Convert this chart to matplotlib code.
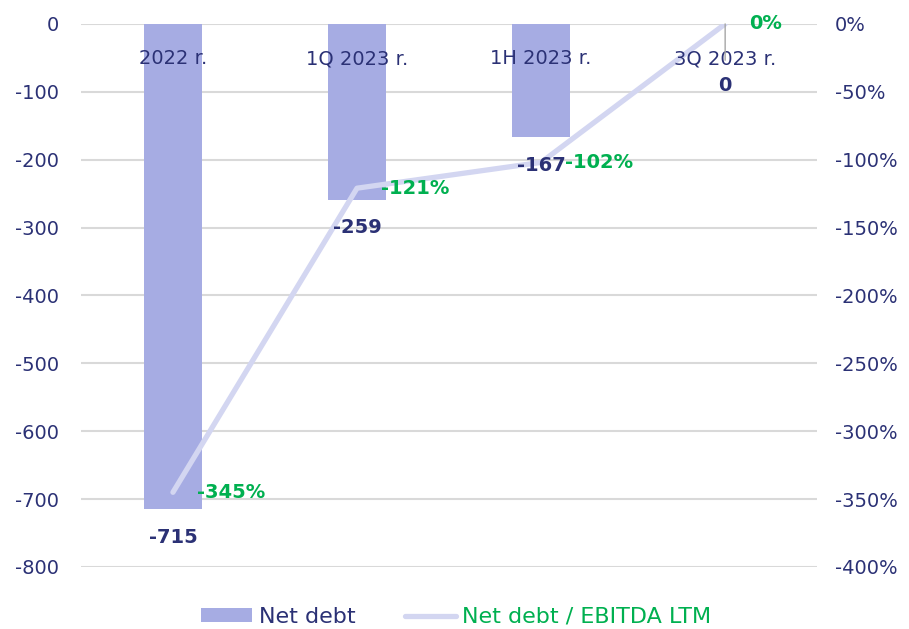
import matplotlib.pyplot as plt
import numpy as np

DPI = 100

categories = ["2022 r.", "1Q 2023 r.", "1H 2023 r.", "3Q 2023 r."]
net_debt = [-715, -259, -167, 0]
debt_to_ebitda = [-345, -121, -102, 0]

NAVY = "#2B3175"
GREEN = "#00B050"
BAR_COLOR = "#A6ACE3"
LINE_COLOR = "#D3D6F1"
GRID_COLOR = "#D9D9D9"

plt.rcParams["font.family"] = ["DejaVu Sans"]
plt.rcParams["axes.unicode_minus"] = False

fig = plt.figure(figsize=(9.09, 6.29), dpi=DPI)
ax = fig.add_axes([0.089, 0.0986, 0.81, 0.8634])
ax2 = ax.twinx()

x = np.arange(len(categories))

bars = ax.bar(x, net_debt, width=0.315, color=BAR_COLOR, zorder=2, label="Net debt")
ax.set_ylim(-800, 0)
ax.set_xlim(-0.5, len(categories) - 0.5)
ax.set_yticks(np.arange(-800, 1, 100))
ax.grid(axis="y", color=GRID_COLOR, linewidth=1.5, zorder=0)
ax.set_axisbelow(True)

# category labels inside the top of the plot, drawn on the twin so they sit over bars and line
ax.set_xticks(x)
ax.set_xticklabels(categories)
ax.tick_params(axis="x", length=0, labelbottom=False, labeltop=False)
ax2.xaxis.set_visible(True)
ax2.tick_params(axis="x", length=0, bottom=False, top=False, labelbottom=False,
                labeltop=True, pad=-32, labelsize=14, labelcolor=NAVY)
ax.tick_params(axis="y", length=0, pad=16, labelsize=14, labelcolor=NAVY)

for spine in ax.spines.values():
    spine.set_visible(False)
for spine in ax2.spines.values():
    spine.set_visible(False)

line, = ax2.plot(x, debt_to_ebitda, color=LINE_COLOR, linewidth=3.8,
                 solid_capstyle="round", zorder=1, label="Net debt / EBITDA LTM")
ax2.set_ylim(-400, 0)
ax2.set_yticks(np.arange(-400, 1, 50))
ax2.set_yticklabels([f"{t}%" for t in range(-400, 1, 50)])
ax2.tick_params(axis="y", length=0, pad=13, labelsize=14, labelcolor=NAVY)

# bar value labels (on ax2 so they sit above the line)
for xi, v in zip(x, net_debt):
    if v == 0:
        ax2.annotate(
            "0", xy=(xi, v), xycoords=ax.transData, xytext=(0, -44),
            textcoords="offset points", ha="center", va="center", fontsize=14,
            fontweight="bold", color=NAVY, zorder=6,
            arrowprops=dict(arrowstyle="-", color="#A6A6A6", lw=1, shrinkA=9, shrinkB=0),
        )
    else:
        ax2.annotate(
            f"{v}", xy=(xi, v), xycoords=ax.transData, xytext=(0, -20),
            textcoords="offset points", ha="center", va="center", fontsize=14,
            fontweight="bold", color=NAVY, zorder=6,
        )

for xi, v in zip(x, debt_to_ebitda):
    ax2.annotate(
        f"{v}%", xy=(xi, v), xytext=(17, 0), textcoords="offset points",
        ha="left", va="center", fontsize=14, fontweight="bold", color=GREEN, zorder=6,
    )

leg = ax2.legend(
    [bars, line], ["Net debt", "Net debt / EBITDA LTM"],
    loc="upper center", bbox_to_anchor=(0.51, -0.045), ncol=2, frameon=False,
    fontsize=16, handlelength=2.3, handleheight=0.6, handletextpad=0.3,
    columnspacing=2.2, borderpad=0.2,
)
texts = leg.get_texts()
texts[0].set_color(NAVY)
texts[1].set_color(GREEN)

fig.savefig("out.png", dpi=DPI)
